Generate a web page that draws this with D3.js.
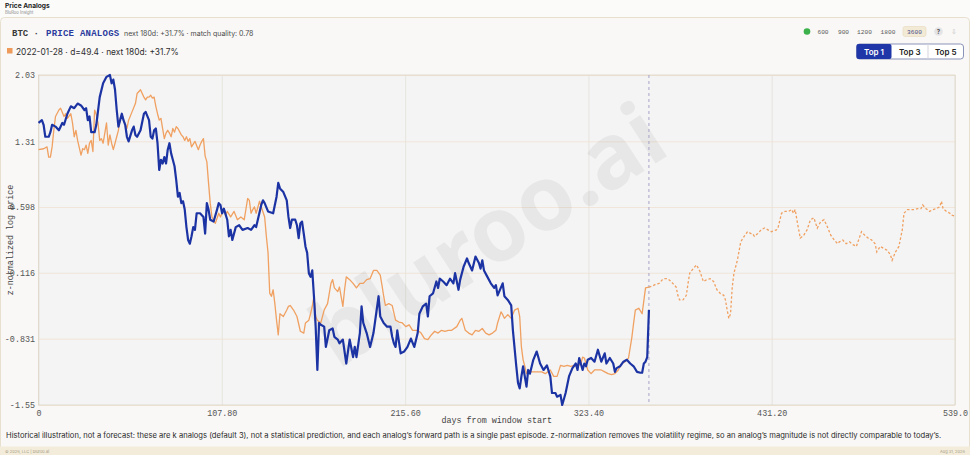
<!DOCTYPE html>
<html>
<head>
<meta charset="utf-8">
<script src="https://cdn.jsdelivr.net/npm/d3@7"></script>
<style>
  html, body { margin: 0; padding: 0; background: #faf9f7; }
  svg { display: block; font-family: "Inter", "Noto Sans", sans-serif; }
  .mono { font-family: "Liberation Mono", "DejaVu Sans Mono", monospace; }
</style>
</head>
<body>
<svg id="chart" width="970" height="455"></svg>
<script>
// ---- data ----
// current 360-day window (blue), [day, z-normalized log price]
const currentPath = [
  [0,1.51],[2,1.54],[3,1.49],[4,1.36],[6,1.36],[7,1.41],[8,1.49],[10,1.47],[12,1.43],[14,1.51],[15,1.49],[17,1.61],[19,1.69],[21,1.67],[23,1.72],[25,1.70],[27,1.65],[28,1.67],[29,1.54],[30,1.58],[31,1.41],[33,1.41],[34,1.49],[36,1.79],[38,1.94],[40,2.01],[42,2.03],[43,1.94],[44,1.98],[45,1.87],[46,1.65],[47,1.47],[48,1.54],[49,1.61],[50,1.54],[51,1.49],[52,1.36],[53,1.31],[55,1.43],[56,1.47],[57,1.38],[58,1.36],[60,1.43],[62,1.61],[63,1.63],[65,1.54],[66,1.36],[67,1.34],[68,1.43],[69,1.45],[70,1.29],[71,1.00],[72,1.11],[73,1.07],[74,1.14],[75,1.07],[76,1.22],[77,1.29],[78,1.18],[79,1.11],[80,1.04],[81,0.89],[82,0.71],[83,0.75],[84,0.64],[85,0.66],[86,0.57],[87,0.38],[88,0.24],[89,0.20],[90,0.28],[91,0.38],[92,0.35],[93,0.53],
  [95,0.53],[97,0.49],[98,0.31],[99,0.64],[100,0.57],[101,0.46],[103,0.44],[105,0.57],[106,0.64],[107,0.62],[108,0.53],[109,0.58],[111,0.46],[112,0.28],[113,0.35],[114,0.24],[116,0.38],[118,0.40],[120,0.35],[123,0.37],[125,0.35],[127,0.40],[128,0.38],[131,0.62],[132,0.67],[133,0.64],[135,0.55],[138,0.53],[140,0.71],[141,0.86],[142,0.80],[144,0.76],[146,0.67],[147,0.49],[148,0.37],[149,0.46],[151,0.46],[152,0.40],[153,0.26],[154,0.42],[155,0.44],[156,0.31],[157,0.17],[158,0.10],[159,-0.12],[160,-0.16],[161,-0.09],[162,-0.37],[163,-0.70],[164,-1.17],[165,-0.66],[166,-0.68],[168,-0.70],[169,-0.92],[171,-0.74],[173,-0.72],[174,-0.81],[176,-0.84],[177,-0.88],[179,-0.84],[181,-1.10],[183,-0.84],[185,-1.03],[186,-0.92],[187,-1.03],[189,-0.77],[190,-0.48],[191,-0.66],[193,-0.77],[195,-0.92],[197,-0.77],[200,-0.37],[201,-0.59],[203,-0.66],[205,-0.70],[207,-0.70],[208,-0.81],[209,-0.88],[210,-0.92],[211,-0.74],[213,-0.99],[215,-0.97],[217,-0.92],[219,-0.83],[221,-0.92],[223,-0.77],[224,-0.56],[226,-0.48],[228,-0.45],[229,-0.59],[230,-0.37],[232,-0.34],[234,-0.21],[235,-0.28],[236,-0.18],[238,-0.21],[240,-0.25],[242,-0.18],[244,-0.23],[245,-0.12],[247,-0.30],[248,-0.19],[250,-0.05],[252,0.04],[253,-0.01],[255,-0.09],[257,0.06],[259,-0.01],[260,-0.07],[261,0.02],[262,-0.09],[264,-0.16],[266,-0.23],[268,-0.28],[269,-0.25],[270,-0.36],[273,-0.23],[274,-0.37],[276,-0.41],[278,-0.47],[279,-0.74],[281,-1.13],[282,-1.31],[283,-1.37],[284,-1.24],[285,-1.13],[287,-1.35],[288,-1.17],[289,-1.21],[291,-1.06],[293,-0.97],[295,-1.10],[297,-1.17],[299,-1.12],[301,-1.24],[302,-1.42],[304,-1.42],[305,-1.46],[307,-1.44],[308,-1.55],[310,-1.42],[312,-1.24],[314,-1.15],[316,-1.10],[317,-1.17],[318,-1.04],[320,-1.17],[321,-1.10],[322,-1.13],[323,-1.06],[325,-1.04],[327,-1.08],[329,-0.95],[331,-1.08],[333,-0.99],[334,-1.10],[336,-1.04],[338,-1.10],[339,-1.19],[340,-1.15],[342,-1.13],[344,-1.08],[346,-1.06],[348,-1.10],[350,-1.13],[352,-1.19],[354,-1.20],[355,-1.20],[356,-1.10],[357,-1.08],[358,-1.03],[359,-0.52]
];

// top analog 2022-01-28 (orange), history part then its next 180 days
const analogPath = [
  [0,1.22],[3,1.23],[5,1.25],[6,1.14],[7,1.14],[8,1.25],[9,1.43],[10,1.58],[12,1.65],[13,1.67],[15,1.58],[16,1.61],[17,1.56],[19,1.61],[20,1.51],[21,1.36],[22,1.43],[23,1.32],[25,1.16],[26,1.23],[27,1.22],[28,1.27],[29,1.18],[30,1.29],[31,1.32],[32,1.20],[33,1.65],[34,1.60],[35,1.51],[36,1.32],[37,1.34],[38,1.29],[39,1.40],[40,1.51],[41,1.27],[42,1.38],[43,1.29],[44,1.22],[45,1.29],[46,1.36],[47,1.43],[48,1.56],[49,1.61],[50,1.54],[52,1.45],[53,1.54],[55,1.63],[57,1.72],[58,1.83],[60,1.87],[61,1.83],[62,1.79],[63,1.76],[64,1.79],[65,1.79],[66,1.81],[67,1.78],[68,1.79],[69,1.69],[70,1.61],[71,1.54],[72,1.56],[74,1.34],[75,1.40],[76,1.43],[77,1.40],[78,1.36],[79,1.45],[80,1.41],[81,1.47],[82,1.45],[84,1.38],[85,1.36],[86,1.32],[87,1.36],[88,1.31],[89,1.34],[90,1.25],[92,1.31],[94,1.22],[95,1.27],[96,1.31],[97,1.34],[98,1.15],[99,1.09],[100,0.86],[101,0.64],[102,0.49],[104,0.42],[106,0.53],[107,0.49],[109,0.58],[110,0.51],[111,0.55],[113,0.49],[115,0.55],[117,0.46],[119,0.49],[121,0.46],[123,0.69],[124,0.67],[125,0.53],[126,0.57],[127,0.60],[128,0.53],[130,0.66],[131,0.60],[133,0.49],[134,0.28],[135,0.10],[136,-0.34],[137,-0.37],[138,-0.30],[139,-0.45],[140,-0.63],[141,-0.79],[142,-0.56],[144,-0.59],[146,-0.52],[147,-0.48],[148,-0.47],[150,-0.52],[152,-0.59],[154,-0.75],[156,-0.77],[157,-0.66],[159,-0.63],[160,-0.56],[161,-0.48],[162,-0.37],[163,-0.59],[164,-0.63],[166,-0.66],[168,-0.52],[170,-0.45],[172,-0.23],[173,-0.19],[174,-0.28],[176,-0.32],[177,-0.27],[179,-0.48],[180,-0.30],[181,-0.16],[183,-0.19],[185,-0.23],[187,-0.28],[189,-0.23],[191,-0.23],[193,-0.19],[195,-0.18],[197,-0.09],[199,-0.09],[201,-0.14],[202,-0.25],[203,-0.37],[204,-0.47],[206,-0.45],[208,-0.47],[210,-0.63],[212,-0.65],[214,-0.66],[216,-0.70],[218,-0.68],[220,-0.74],[222,-0.74],[223,-0.74],[225,-0.77],[227,-0.83],[229,-0.84],[231,-0.79],[233,-0.75],[235,-0.77],[237,-0.74],[239,-0.75],[241,-0.74],[243,-0.74],[246,-0.70],[248,-0.63],[249,-0.61],[251,-0.74],[253,-0.77],[255,-0.79],[257,-0.74],[259,-0.75],[261,-0.72],[263,-0.77],[265,-0.79],[267,-0.77],[269,-0.74],[270,-0.66],[272,-0.54],[273,-0.57],[274,-0.61],[276,-0.57],[278,-0.61],[280,-0.52],[282,-0.50],[283,-0.59],[284,-0.92],[285,-1.06],[286,-1.13],[287,-1.21],[288,-1.17],[290,-1.19],[292,-1.19],[294,-1.19],[296,-1.19],[298,-1.21],[301,-1.17],[303,-1.24],[305,-1.24],[307,-1.12],[309,-1.13],[311,-1.12],[313,-1.13],[315,-1.12],[317,-1.13],[319,-1.10],[320,-1.03],[321,-1.04],[322,-1.10],[323,-1.17],[325,-1.21],[327,-1.17],[329,-1.17],[331,-1.17],[333,-1.19],[335,-1.21],[337,-1.22],[339,-1.21],[341,-1.17],[343,-1.10],[345,-1.08],[347,-1.04],[349,-0.81],[350,-0.66],[351,-0.52],[353,-0.50],[355,-0.56],[357,-0.28],[359,-0.27],
  [361,-0.26],[363,-0.24],[365,-0.23],[367,-0.19],[368,-0.18],[370,-0.18],[372,-0.21],[373,-0.23],[375,-0.27],[376,-0.36],[377,-0.41],[379,-0.41],[381,-0.36],[382,-0.23],[383,-0.12],[385,-0.07],[387,-0.03],[389,-0.10],[391,-0.21],[393,-0.19],[395,-0.18],[397,-0.21],[399,-0.30],[401,-0.34],[403,-0.36],[404,-0.41],[405,-0.52],[406,-0.61],[407,-0.56],[408,-0.27],[409,-0.12],[410,-0.05],[411,0.02],[413,0.22],[415,0.28],[417,0.33],[419,0.31],[420,0.31],[421,0.28],[423,0.31],[425,0.35],[427,0.37],[429,0.35],[431,0.33],[434,0.35],[435,0.38],[437,0.53],[439,0.55],[441,0.55],[443,0.57],[444,0.53],[445,0.57],[446,0.46],[448,0.26],[450,0.29],[452,0.35],[454,0.46],[456,0.48],[458,0.37],[460,0.44],[462,0.46],[464,0.38],[466,0.29],[468,0.24],[470,0.20],[471,0.22],[473,0.24],[475,0.20],[477,0.22],[479,0.19],[481,0.17],[484,0.33],[486,0.29],[488,0.26],[490,0.24],[492,0.20],[493,0.11],[495,0.17],[497,0.15],[499,0.13],[501,0.08],[502,0.02],[504,0.11],[506,0.17],[508,0.35],[509,0.53],[511,0.57],[513,0.57],[515,0.57],[517,0.58],[519,0.58],[520,0.62],[522,0.58],[524,0.55],[526,0.57],[528,0.58],[530,0.60],[531,0.66],[532,0.58],[534,0.55],[536,0.53],[537,0.51],[539,0.50]
];

const windowEnd = 359;           // last day of the current window (dashed marker)
const xDomain = [0, 539];
const yDomain = [-1.55, 2.03];
const xTickValues = [0, 107.8, 215.6, 323.4, 431.2, 539];
const xTickLabels = ["0", "107.80", "215.60", "323.40", "431.20", "539.0"];
const yTickValues = [2.03, 1.31, 0.598, -0.116, -0.831, -1.55];
const yTickLabels = ["2.03", "1.31", "0.598", "-0.116", "-0.831", "-1.55"];
const lookbacks = ["600", "900", "1200", "1800", "3600"];
const topChoices = ["Top 1", "Top 3", "Top 5"];

const svg = d3.select("#chart");
const W = 970, H = 455;
const plot = { left: 38.5, right: 955, top: 75, bottom: 405 };

const x = d3.scaleLinear().domain(xDomain).range([plot.left, plot.right]);
const y = d3.scaleLinear().domain(yDomain).range([plot.bottom, plot.top]);

// page / card background
svg.append("rect").attr("width", W).attr("height", H).attr("fill", "#fbfbfa");
svg.append("rect")
  .attr("x", 0.5).attr("y", 17.5).attr("width", W - 1).attr("height", 436)
  .attr("rx", 4).attr("fill", "#f9f8f6").attr("stroke", "#e7e0cf");

// app header
svg.append("text").attr("x", 5).attr("y", 8).attr("font-size", 6.6)
  .attr("font-weight", 700).attr("fill", "#1d1d1d").text("Price Analogs");
svg.append("text").attr("x", 5).attr("y", 13.5).attr("font-size", 4.2)
  .attr("fill", "#8a8a8a").text("BluRoo Insight");

// title row
const t1 = svg.append("text").attr("y", 36);
t1.append("tspan").attr("class", "mono").attr("x", 12).attr("font-size", 9)
  .attr("font-weight", 700).attr("fill", "#3a3a3a").text("BTC ·");
t1.append("tspan").attr("class", "mono").attr("x", 46).attr("font-size", 9)
  .attr("font-weight", 700).attr("letter-spacing", 0.25).attr("fill", "#2b3b9e").text("PRICE ANALOGS");
t1.append("tspan").attr("x", 124).attr("font-size", 7).attr("fill", "#4a4a4a")
  .text("next 180d: +31.7% · match quality: 0.78");

// legend row
svg.append("rect").attr("x", 7).attr("y", 48).attr("width", 5.5).attr("height", 5.5)
  .attr("fill", "#ee9a5a");
svg.append("text").attr("x", 16).attr("y", 55).attr("font-size", 8.4)
  .attr("fill", "#2e2e2e").text("2022-01-28 · d=49.4 · next 180d: +31.7%");

// lookback selector
svg.append("circle").attr("cx", 807).attr("cy", 31.5).attr("r", 3.3).attr("fill", "#3cb04a");
const lbX = [823, 843.5, 864.5, 888, 914.5];
svg.append("rect").attr("x", 903).attr("y", 26.5).attr("width", 23).attr("height", 10)
  .attr("rx", 2).attr("fill", "#f3ead6").attr("stroke", "#e6d9bd").attr("stroke-width", 0.6);
svg.selectAll(".lb").data(lookbacks).enter().append("text")
  .attr("class", "lb mono")
  .attr("x", (d, i) => lbX[i]).attr("y", 33.7)
  .attr("text-anchor", "middle").attr("font-size", 6.2)
  .attr("fill", (d, i) => i === 4 ? "#4a4f8a" : "#5a5a5a")
  .text(d => d);
svg.append("circle").attr("cx", 938.5).attr("cy", 31.5).attr("r", 4.3).attr("fill", "#e4e4e6");
svg.append("text").attr("x", 938.5).attr("y", 33.8).attr("text-anchor", "middle")
  .attr("font-size", 6).attr("font-weight", 700).attr("fill", "#555").text("?");
svg.append("text").attr("x", 954).attr("y", 34).attr("text-anchor", "middle")
  .attr("font-size", 7).attr("fill", "#c4c4c4").text("⇩");

// top-k buttons
const btnX = [856.5, 891.5, 928];
const btnW = [35, 36.5, 35.5];
const btns = svg.append("g");
btns.append("rect").attr("x", 856.5).attr("y", 44).attr("width", 107).attr("height", 15)
  .attr("rx", 3).attr("fill", "#ffffff").attr("stroke", "#8b93b8");
btns.append("rect").attr("x", btnX[0]).attr("y", 44).attr("width", btnW[0]).attr("height", 15)
  .attr("rx", 2).attr("fill", "#1f36a8");
btns.append("line").attr("x1", 928).attr("x2", 928).attr("y1", 44).attr("y2", 59)
  .attr("stroke", "#d5d5dc");
btns.selectAll("text").data(topChoices).enter().append("text")
  .attr("x", (d, i) => btnX[i] + btnW[i] / 2).attr("y", 54.6)
  .attr("text-anchor", "middle").attr("font-size", 8).attr("font-weight", 600)
  .attr("fill", (d, i) => i === 0 ? "#ffffff" : "#222")
  .text(d => d);

// plot area
svg.append("rect")
  .attr("x", plot.left).attr("y", plot.top)
  .attr("width", plot.right - plot.left).attr("height", plot.bottom - plot.top)
  .attr("fill", "#f4f4f4");

// grid lines
svg.append("g")
  .attr("transform", "translate(0," + plot.bottom + ")")
  .call(d3.axisBottom(x).tickValues(xTickValues).tickSize(-(plot.bottom - plot.top)).tickFormat(""))
  .call(g => g.select(".domain").remove())
  .call(g => g.selectAll("line").attr("stroke", "#e5e1d9").attr("stroke-width", 0.8));
svg.append("g")
  .attr("transform", "translate(" + plot.left + ",0)")
  .call(d3.axisLeft(y).tickValues(yTickValues).tickSize(-(plot.right - plot.left)).tickFormat(""))
  .call(g => g.select(".domain").remove())
  .call(g => g.selectAll("line").attr("stroke", "#f0e1d2").attr("stroke-width", 0.8));

// watermark
svg.append("text")
  .attr("transform", "translate(486,232) rotate(-33)")
  .attr("text-anchor", "middle").attr("dominant-baseline", "central")
  .attr("font-family", "'Noto Sans', sans-serif")
  .attr("font-size", 90).attr("font-weight", 700)
  .attr("fill", "#000").attr("fill-opacity", 0.05)
  .text("bluroo.ai");

// frame
svg.append("rect")
  .attr("x", plot.left).attr("y", plot.top)
  .attr("width", plot.right - plot.left).attr("height", plot.bottom - plot.top)
  .attr("fill", "none").attr("stroke", "#ddd6c6").attr("stroke-width", 0.8);

// window end marker
svg.append("line")
  .attr("x1", x(windowEnd)).attr("x2", x(windowEnd))
  .attr("y1", plot.top).attr("y2", plot.bottom)
  .attr("stroke", "#a7a4c8").attr("stroke-width", 1).attr("stroke-dasharray", "3,3");

const line = d3.line().x(d => x(d[0])).y(d => y(d[1]));

// analog: solid in the matched window, dashed afterwards
svg.append("path")
  .datum(analogPath.filter(d => d[0] <= windowEnd))
  .attr("d", line).attr("fill", "none")
  .attr("stroke", "#f0a060").attr("stroke-width", 1.3).attr("stroke-linejoin", "round");
svg.append("path")
  .datum(analogPath.filter(d => d[0] >= windowEnd))
  .attr("d", line).attr("fill", "none")
  .attr("stroke", "#f0a060").attr("stroke-width", 1.3).attr("stroke-dasharray", "2.5,2");

// current window
svg.append("path")
  .datum(currentPath)
  .attr("d", line).attr("fill", "none")
  .attr("stroke", "#1c33a4").attr("stroke-width", 2.2).attr("stroke-linejoin", "round");

// axis labels
svg.append("g")
  .attr("transform", "translate(0," + plot.bottom + ")")
  .call(d3.axisBottom(x).tickValues(xTickValues).tickSize(0).tickPadding(5)
    .tickFormat((d, i) => xTickLabels[i]))
  .call(g => g.select(".domain").remove())
  .call(g => g.selectAll("text").attr("class", "mono").attr("font-size", 8.4)
    .attr("fill", "#555").attr("font-family", null));
svg.append("g")
  .attr("transform", "translate(" + plot.left + ",0)")
  .call(d3.axisLeft(y).tickValues(yTickValues).tickSize(0).tickPadding(3.5)
    .tickFormat((d, i) => yTickLabels[i]))
  .call(g => g.select(".domain").remove())
  .call(g => g.selectAll("text").attr("class", "mono").attr("font-size", 8.4)
    .attr("fill", "#555").attr("font-family", null));

svg.append("text").attr("class", "mono")
  .attr("x", (plot.left + plot.right) / 2).attr("y", 423)
  .attr("text-anchor", "middle").attr("font-size", 8.4).attr("fill", "#444")
  .text("days from window start");
svg.append("text").attr("class", "mono")
  .attr("transform", "translate(13," + (plot.top + plot.bottom) / 2 + ") rotate(-90)")
  .attr("text-anchor", "middle").attr("font-size", 8.4).attr("fill", "#444")
  .text("z-normalized log price");

// disclaimer: shrink font until it fits the card width
const note = svg.append("text").attr("x", 6).attr("y", 438)
  .attr("font-size", 8.2).attr("fill", "#2a2a2a")
  .text("Historical illustration, not a forecast: these are k analogs (default 3), not a statistical prediction, and each analog\u2019s forward path is a single past episode. z-normalization removes the volatility regime, so an analog\u2019s magnitude is not directly comparable to today\u2019s.");
let fs = 8.2;
while (note.node().getComputedTextLength() > 946 && fs > 6) {
  fs -= 0.1;
  note.attr("font-size", fs);
}

// footer strip
svg.append("rect").attr("x", 0).attr("y", 446.5).attr("width", W).attr("height", 8.5)
  .attr("fill", "#f4ecda");
svg.append("text").attr("x", 5).attr("y", 452.5).attr("font-size", 4)
  .attr("fill", "#a59c86").text("© 2026, LLC  |  bluroo.ai");
svg.append("text").attr("x", 965).attr("y", 452.5).attr("text-anchor", "end")
  .attr("font-size", 4).attr("fill", "#a59c86").text("Aug 31, 2026");
</script>
</body>
</html>
